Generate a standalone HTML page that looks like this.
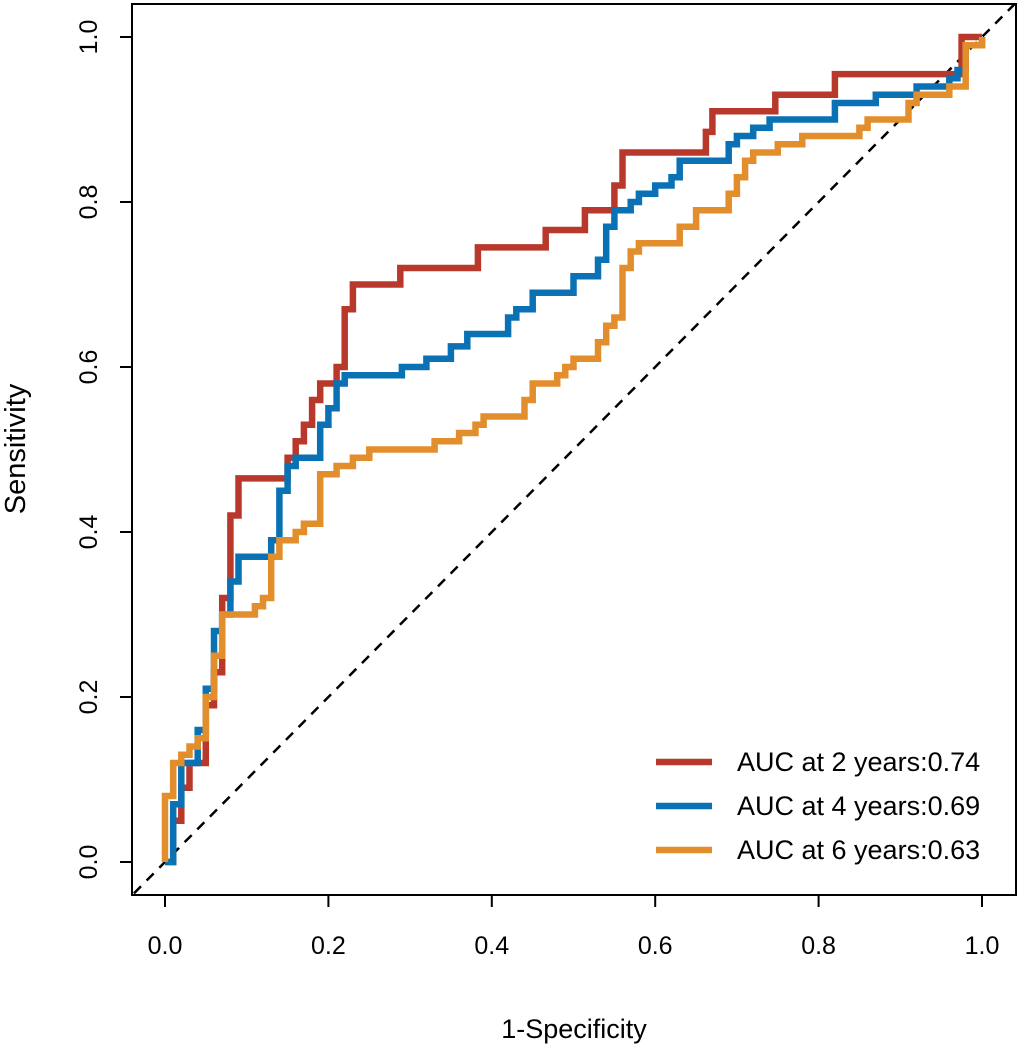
<!DOCTYPE html>
<html><head><meta charset="utf-8"><style>
body{margin:0;background:#fff}
svg{display:block;font-family:"Liberation Sans",Arial,sans-serif}
</style></head><body>
<svg id="chart" width="1020" height="1055" viewBox="0 0 1020 1055">
<defs><clipPath id="clip"><rect x="132" y="4" width="884" height="891"/></clipPath></defs>
<rect x="132" y="4" width="884" height="891" fill="none" stroke="#000" stroke-width="2"/>
<g id="xaxis"></g>
<g id="yaxis"></g>
<line id="diag" stroke="#000" stroke-width="2.5" stroke-dasharray="10,8" clip-path="url(#clip)"/>
<g id="series" clip-path="url(#clip)"></g>
<text x="574" y="1038" font-size="27" text-anchor="middle">1-Specificity</text>
<text transform="translate(25,449) rotate(-90)" font-size="29" text-anchor="middle">Sensitivity</text>
<g id="legend"></g>
</svg>
<script>
const ticks=[0,0.2,0.4,0.6,0.8,1.0];
const tickLabels=["0.0","0.2","0.4","0.6","0.8","1.0"];
const legendLabels=["AUC at 2 years:0.74","AUC at 4 years:0.69","AUC at 6 years:0.63"];
const colors=["#B8392B","#0A72B4","#E38E2C"];
const fpr2=[0,0.01,0.01,0.02,0.03,0.05,0.05,0.06,0.07,0.07,0.08,0.08,0.09,0.09,0.15,0.15,0.16,0.17,0.18,0.19,0.21,0.21,0.22,0.22,0.23,0.288,0.288,0.383,0.383,0.466,0.466,0.514,0.514,0.54,0.55,0.56,0.56,0.662,0.662,0.67,0.747,0.747,0.82,0.82,0.975,0.975,1];
const tpr2=[0,0,0.05,0.09,0.12,0.12,0.19,0.23,0.27,0.32,0.36,0.42,0.44,0.465,0.465,0.49,0.51,0.53,0.56,0.58,0.58,0.6,0.63,0.67,0.7,0.7,0.72,0.72,0.745,0.745,0.766,0.766,0.79,0.79,0.82,0.84,0.86,0.86,0.885,0.91,0.91,0.93,0.93,0.955,0.955,1.0,1];
const fpr4=[0,0.01,0.01,0.02,0.02,0.03,0.04,0.05,0.05,0.06,0.06,0.07,0.08,0.08,0.09,0.09,0.13,0.13,0.14,0.14,0.15,0.16,0.19,0.19,0.2,0.21,0.21,0.22,0.29,0.29,0.32,0.35,0.35,0.37,0.41,0.42,0.43,0.45,0.5,0.5,0.53,0.53,0.54,0.54,0.55,0.57,0.57,0.58,0.6,0.62,0.63,0.69,0.69,0.7,0.72,0.72,0.74,0.82,0.82,0.87,0.92,0.96,0.97,0.98,1];
const tpr4=[0,0.03,0.07,0.1,0.12,0.12,0.16,0.17,0.21,0.24,0.28,0.3,0.32,0.34,0.35,0.37,0.37,0.39,0.41,0.45,0.48,0.49,0.49,0.53,0.55,0.56,0.58,0.59,0.59,0.6,0.61,0.61,0.625,0.64,0.64,0.66,0.67,0.69,0.69,0.71,0.71,0.73,0.75,0.77,0.79,0.79,0.8,0.81,0.82,0.83,0.85,0.85,0.87,0.88,0.88,0.89,0.9,0.9,0.92,0.93,0.94,0.95,0.96,0.99,1];
const fpr6=[0,0,0.01,0.01,0.02,0.03,0.04,0.05,0.05,0.06,0.06,0.07,0.07,0.1,0.11,0.12,0.13,0.13,0.14,0.15,0.16,0.17,0.17,0.19,0.19,0.21,0.21,0.23,0.24,0.25,0.33,0.33,0.35,0.36,0.37,0.38,0.39,0.43,0.44,0.45,0.45,0.48,0.49,0.5,0.53,0.53,0.54,0.55,0.56,0.56,0.57,0.58,0.62,0.63,0.65,0.69,0.69,0.7,0.71,0.72,0.75,0.78,0.85,0.85,0.86,0.91,0.91,0.92,0.96,0.98,0.98,1];
const tpr6=[0,0.08,0.09,0.12,0.13,0.14,0.15,0.16,0.2,0.24,0.25,0.26,0.3,0.3,0.31,0.32,0.33,0.37,0.39,0.39,0.4,0.4,0.41,0.42,0.47,0.47,0.48,0.49,0.49,0.5,0.5,0.51,0.51,0.52,0.52,0.53,0.54,0.54,0.56,0.57,0.58,0.59,0.6,0.61,0.61,0.63,0.65,0.66,0.68,0.72,0.74,0.75,0.75,0.77,0.79,0.79,0.81,0.83,0.85,0.86,0.87,0.88,0.88,0.89,0.9,0.9,0.92,0.93,0.94,0.96,0.99,1];
const X=v=>165+v*817, Y=v=>862-v*825;
const NS="http://www.w3.org/2000/svg";
function mk(tag,attrs,parent,text){const e=document.createElementNS(NS,tag);for(const k in attrs)e.setAttribute(k,attrs[k]);if(text!=null)e.textContent=text;parent.appendChild(e);return e;}
const xa=document.getElementById('xaxis'),ya=document.getElementById('yaxis');
mk('line',{x1:X(0),x2:X(1),y1:895,y2:895,stroke:'#000','stroke-width':2},xa);
mk('line',{x1:132,x2:132,y1:Y(0),y2:Y(1),stroke:'#000','stroke-width':2},ya);
ticks.forEach((t,i)=>{
 mk('line',{x1:X(t),x2:X(t),y1:895,y2:907,stroke:'#000','stroke-width':2},xa);
 const tx=mk('text',{x:X(t),y:954,'font-size':25,'text-anchor':'middle'},xa,tickLabels[i]);
 
 
 mk('line',{x1:120,x2:132,y1:Y(t),y2:Y(t),stroke:'#000','stroke-width':2},ya);
 const ty=mk('text',{transform:`translate(97,${Y(t)}) rotate(-90)`,'font-size':25,'text-anchor':'middle'},ya,tickLabels[i]);
 
 
});
const d=document.getElementById('diag');
d.setAttribute('x1',X(-0.1));d.setAttribute('y1',Y(-0.1));d.setAttribute('x2',X(1.1));d.setAttribute('y2',Y(1.1));
const sg=document.getElementById('series');
[[fpr2,tpr2,'roc-2-years'],[fpr4,tpr4,'roc-4-years'],[fpr6,tpr6,'roc-6-years']].forEach((s,i)=>{
 let dstr='M'+X(s[0][0]).toFixed(1)+','+Y(s[1][0]).toFixed(1);
 for(let j=1;j<s[0].length;j++){
  dstr+=' H'+X(s[0][j]).toFixed(1)+' V'+Y(s[1][j]).toFixed(1);
 }
 const p=mk('path',{d:dstr,fill:'none',stroke:colors[i],'stroke-width':6.5,'stroke-linejoin':'miter'},sg);
 
 
});
const lg=document.getElementById('legend');
legendLabels.forEach((l,i)=>{
 const yy=762+i*44;
 const ln=mk('line',{x1:656,x2:712,y1:yy,y2:yy,stroke:colors[i],'stroke-width':6.5},lg);
 
 
 const t=mk('text',{x:737,y:yy+9,'font-size':27},lg,l);
 
 
});
</script>
</body></html>
